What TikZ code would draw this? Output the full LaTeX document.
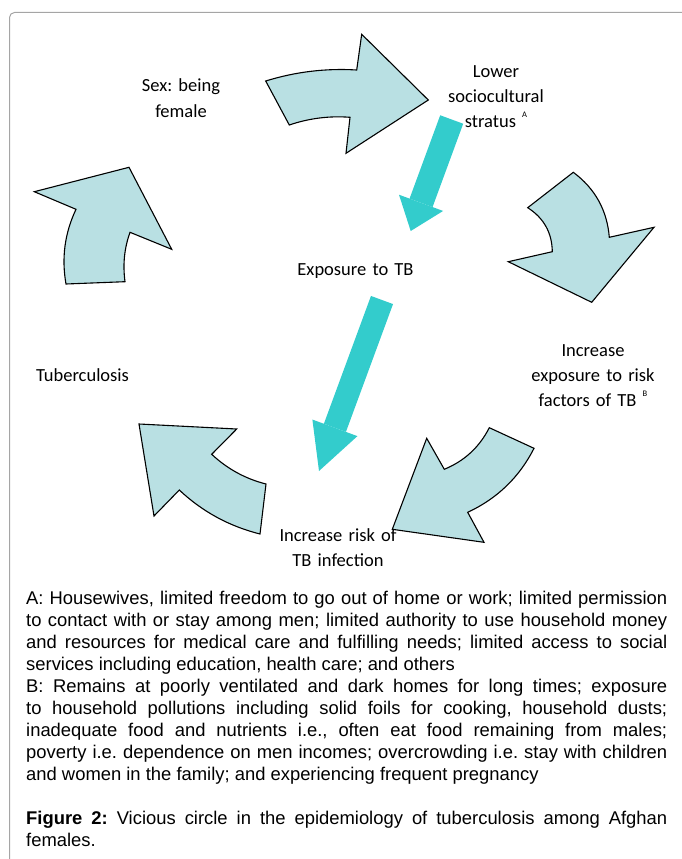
\documentclass[tikz,border=0pt]{standalone}
\usepackage{fontspec}
\setmainfont{Liberation Sans}
\newfontfamily\calibri{Carlito}
\usepackage{tikz}
\usetikzlibrary{arrows.meta}
\definecolor{lightaqua}{RGB}{185,224,227}
\definecolor{tealaqua}{RGB}{51,204,204}
\definecolor{framegray}{RGB}{165,165,165}
\newcommand{\supmark}[1]{\raisebox{10pt}{\fontsize{8.5}{8.5}\selectfont #1}}
\frenchspacing
\hyphenpenalty=10000
\tolerance=9999

\begin{document}
\begin{tikzpicture}[x=1pt,y=-1pt,
        stagetext/.style={font=\calibri\fontsize{18.5}{25}\selectfont, text width=170pt, align=center, inner sep=0pt, anchor=base},
        bentarrow/.style={fill=lightaqua, draw=black, line width=1.1pt, line join=miter},
        tealarrow/.style={draw=tealaqua},
        notes/.style={font=\fontsize{18.4}{22}\selectfont, text width=641pt, align=justify, inner sep=0pt, anchor=base west}]
        \useasboundingbox (0,0) rectangle (681,859);
        % frame
        \draw[framegray, line width=1pt, rounded corners=5pt] (9.5,880) -- (9.5,12.5) -- (700,12.5);

        % stages of the circle
        \node[stagetext] (sex) at (181,92) {Sex: being\\female};
        \node[stagetext] (lower) at (496,77.3) {Lower\\sociocultural\\stratus \supmark{A}};
        \node[stagetext] (expo) at (355.5,275.5) {Exposure to TB};
        \node[stagetext] (incexp) at (593,356.7) {Increase\\exposure to risk\\factors of TB \supmark{B}};
        \node[stagetext] (tb) at (82.5,381.7) {Tuberculosis};
        \node[stagetext] (incrisk) at (338,541.7) {Increase risk of\\TB infection};

        % curved arrows
        \filldraw[bentarrow] (265.7,81) .. controls (295.4,71.8) and (325.7,68.1) .. (356.7,70) -- (361.7,34.3) -- (428.3,100) -- (346,153.3) -- (350,117.3) .. controls (329.3,115.7) and (309,118.3) .. (289.3,125) -- cycle;
        \filldraw[bentarrow] (573.3,172.3) .. controls (595.1,188.6) and (607.1,210.2) .. (609.3,237.3) -- (654,227.3) -- (591.7,302.3) -- (508.3,261.7) -- (552.3,251.7) .. controls (552,232.6) and (543.8,218) .. (527.7,207.7) -- cycle;
        \filldraw[bentarrow] (489.3,427.7) -- (534,448.3) .. controls (519.3,477.3) and (497.2,498.6) .. (467.7,512.3) -- (484,542.3) -- (392.3,529.3) -- (426.7,438.3) -- (444.3,469.3) .. controls (464.4,461) and (479.4,447.2) .. (489.3,427.7) -- cycle;
        \filldraw[bentarrow] (266,484) -- (260,534) .. controls (229.3,526.3) and (202.4,511.7) .. (179.3,490) -- (154,516) -- (139,424) -- (236.7,429) -- (211.7,454.3) .. controls (227.3,468.9) and (245.4,478.8) .. (266,484) -- cycle;
        \filldraw[bentarrow] (66,284) -- (125,281.7) .. controls (122.7,264.2) and (124.3,248.4) .. (130,232.3) -- (171.7,249.3) -- (129,167.3) -- (34.3,191.7) -- (76,209.3) .. controls (64.7,233.2) and (61.4,258) .. (66,284) -- cycle;

        % straight arrows through exposure
        \coordinate (lowertail) at (451.7,119.5);
        \coordinate (expotip) at (410.7,231);
        \coordinate (expotail) at (382,300);
        \coordinate (risktip) at (319,471);
        \draw[tealarrow, line width=24.5pt, -{Triangle[width=47pt,length=30pt,line width=0pt]}] (lowertail) -- (expotip);
        \draw[tealarrow, line width=23.5pt, -{Triangle[width=48pt,length=46pt,line width=0pt]}] (expotail) -- (risktip);

        % footnotes and caption
        \node[notes] (fnotes) at (26,604) {A: Housewives, limited freedom to go out of home or work; limited permission\linebreak
        to contact with or stay among men; limited authority to use household money\linebreak
        and resources for medical care and fulfilling needs; limited access to social\linebreak
        services including education, health care; and others\par
        B: Remains at poorly ventilated and dark homes for long times; exposure\linebreak
        to household pollutions including solid foils for cooking, household dusts;\linebreak
        inadequate food and nutrients i.e., often eat food remaining from males;\linebreak
        poverty i.e. dependence on men incomes; overcrowding i.e. stay with children\linebreak
        and women in the family; and experiencing frequent pregnancy};
        \node[notes] (caption) at (26,824) {\textbf{Figure 2:} Vicious circle in the epidemiology of tuberculosis among Afghan\linebreak
        females.};
\end{tikzpicture}
\end{document}
